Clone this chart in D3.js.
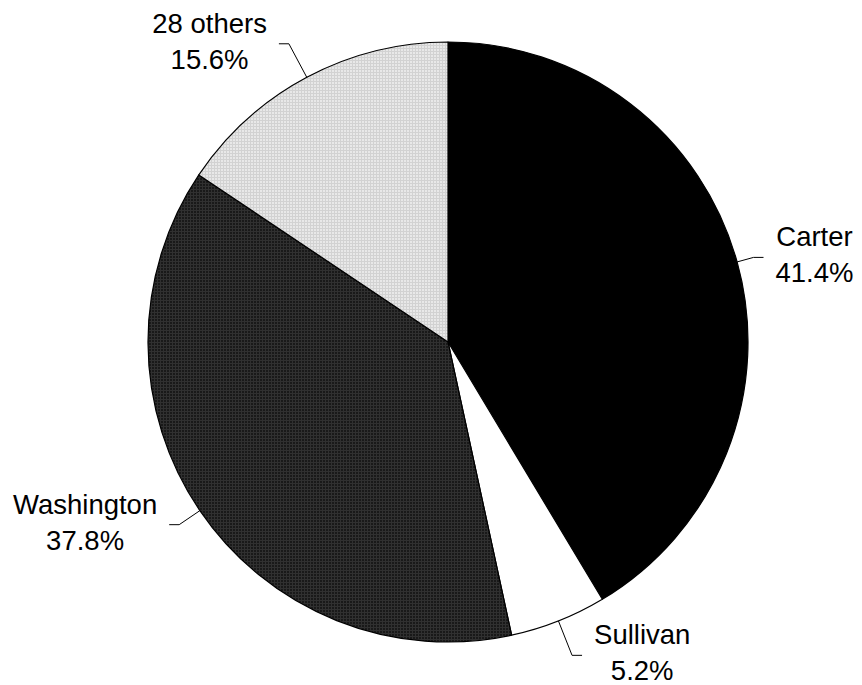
<!DOCTYPE html>
<html>
<head>
<meta charset="utf-8">
<script src="https://cdn.jsdelivr.net/npm/d3@7"></script>
<style>
  html, body { margin: 0; padding: 0; background: #fff; }
  svg { display: block; }
  text { font-family: "Liberation Sans", Arial, sans-serif; font-size: 27.5px; fill: #000; }
</style>
</head>
<body>
<svg id="chart" width="862" height="685"></svg>
<script>
// Vote shares by candidate, clockwise from 12 o'clock
const categories = ["Carter", "Sullivan", "Washington", "28 others"];
const shares = [41.4, 5.2, 37.8, 15.6];
const pctLabels = ["41.4%", "5.2%", "37.8%", "15.6%"];

// Slice fills: solid black, white, dark weave, light stipple
const fills = ["#000000", "#ffffff", "url(#darkWeave)", "url(#lightStipple)"];

// Leader elbow distance beyond the rim, and label side (+1 right, -1 left)
const elbowExtra = [17, 37, 25, 38];
const labelSide = [1, 1, -1, -1];

const W = 862, H = 685;
const cx = 448, cy = 342, R = 300;
const lineGap = 36;

const svg = d3.select("#chart");
const defs = svg.append("defs");

// Dark woven texture
const dark = defs.append("pattern").attr("id", "darkWeave")
  .attr("patternUnits", "userSpaceOnUse").attr("width", 3).attr("height", 3);
dark.append("rect").attr("width", 3).attr("height", 3).attr("fill", "#191919");
dark.append("rect").attr("width", 3).attr("height", 1).attr("fill", "#303030");
dark.append("rect").attr("width", 1).attr("height", 3).attr("fill", "#303030");

// Light stippled texture
const light = defs.append("pattern").attr("id", "lightStipple")
  .attr("patternUnits", "userSpaceOnUse").attr("width", 3).attr("height", 3);
light.append("rect").attr("width", 3).attr("height", 3).attr("fill", "#e8e8e8");
light.append("rect").attr("width", 3).attr("height", 1).attr("fill", "#d2d2d2");
light.append("rect").attr("width", 1).attr("height", 3).attr("fill", "#d2d2d2");

const pie = d3.pie().sort(null).value(d => d).startAngle(0).endAngle(2 * Math.PI);
const arcs = pie(shares);
const arc = d3.arc().innerRadius(0).outerRadius(R);

const g = svg.append("g").attr("transform", `translate(${cx},${cy})`);

g.selectAll("path.slice")
  .data(arcs)
  .join("path")
  .attr("class", "slice")
  .attr("d", arc)
  .attr("fill", (d, i) => fills[i])
  .attr("stroke", "#000")
  .attr("stroke-width", 1.2)
  .attr("stroke-linejoin", "round");

// Leader lines and labels
arcs.forEach((d, i) => {
  const mid = (d.startAngle + d.endAngle) / 2;
  const sx = Math.sin(mid), sy = -Math.cos(mid);
  const p0 = [sx * R, sy * R];
  const p1 = [sx * (R + elbowExtra[i]), sy * (R + elbowExtra[i])];
  const p2 = [p1[0] + labelSide[i] * 10, p1[1]];

  g.append("polyline")
    .attr("points", [p0, p1, p2].map(p => p.join(",")).join(" "))
    .attr("fill", "none")
    .attr("stroke", "#000")
    .attr("stroke-width", 1);

  const lines = [categories[i], pctLabels[i]];
  const lab = g.append("g");
  const texts = lab.selectAll("text").data(lines).join("text")
    .attr("text-anchor", "middle")
    .attr("y", (t, k) => k * lineGap)
    .text(t => t);

  let maxW = 0;
  texts.each(function () { maxW = Math.max(maxW, this.getComputedTextLength()); });
  const blockCx = labelSide[i] > 0 ? p2[0] + 12 + maxW / 2 : p2[0] - 12 - maxW / 2;
  // First baseline placed so the two-line block is centred on the leader end
  const firstBase = p2[1] - lineGap / 2 + 7;
  lab.attr("transform", `translate(${blockCx},${firstBase})`);
});
</script>
</body>
</html>
